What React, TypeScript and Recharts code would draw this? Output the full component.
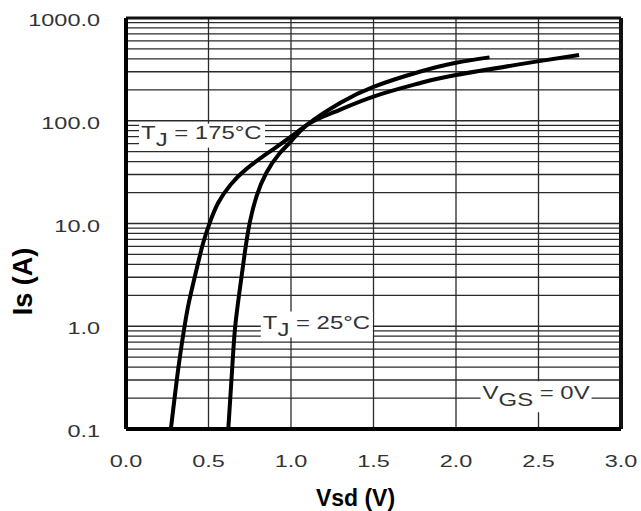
import React from "react";
import {
  LineChart,
  Line,
  XAxis,
  YAxis,
  ReferenceLine,
  ReferenceDot,
} from "recharts";

// Body diode forward characteristic
const vsd175 = [0.272, 0.318, 0.355, 0.381, 0.428, 0.468, 0.508, 0.559, 0.635, 0.73, 0.86, 1.0, 1.12, 1.265, 1.5, 1.78, 2.0, 2.485, 2.746];
const is175 = [0.1, 0.4, 1.0, 1.7, 3.6, 6.5, 10.2, 15.9, 24.0, 34, 48.6, 70, 96, 122, 172, 232, 279, 376, 437];

const vsd25 = [0.62, 0.644, 0.662, 0.69, 0.72, 0.75, 0.791, 0.85, 0.93, 1.0, 1.1, 1.3, 1.5, 1.78, 2.0, 2.203];
const is25 = [0.1, 0.4, 1.0, 2.3, 5.2, 10.2, 18.4, 31, 48, 63, 92, 150, 214, 300, 367, 414];

const xTicks = [0, 0.5, 1.0, 1.5, 2.0, 2.5, 3.0];
const yTicks = [0.1, 1, 10, 100, 1000];

// minor log grid: 1..9 per decade
const yGrid: number[] = [];
[0.1, 1, 10, 100].forEach((d) => {
  for (let k = 2; k <= 9; k++) yGrid.push(+(k * d).toPrecision(3));
});
yGrid.push(1, 10, 100);

const data175 = vsd175.map((v, i) => ({ v, is: is175[i] }));
const data25 = vsd25.map((v, i) => ({ v, is: is25[i] }));

const FONT = "'Liberation Sans', Arial, sans-serif";
const STRETCH = 1.38;
const GRID = "#2a2a2a";

function YTick({ x, y, payload }: any) {
  return (
    <text
      transform={`translate(${x}, ${y + 8}) scale(${STRETCH},1)`}
      textAnchor="end"
      fontFamily={FONT}
      fontSize={17}
      fill="#333"
    >
      {Number(payload.value).toFixed(1)}
    </text>
  );
}

function XTick({ x, y, payload }: any) {
  return (
    <text
      transform={`translate(${x}, ${y + 38}) scale(${STRETCH},1)`}
      textAnchor="middle"
      fontFamily={FONT}
      fontSize={17}
      fill="#333"
    >
      {Number(payload.value).toFixed(1)}
    </text>
  );
}

// annotation with white box behind it; box given relative to the text start
function annotation(main: string, sub: string, rest: string, box: [number, number, number, number]) {
  return ({ viewBox }: any) => {
    const { x, y } = viewBox;
    return (
      <g>
        <rect x={x + box[0]} y={y + box[1]} width={box[2]} height={box[3]} fill="#fff" />
        <text
          transform={`translate(${x}, ${y}) scale(1.33,1)`}
          fontFamily={FONT}
          fontSize={18}
          fill="#333"
        >
          {main}
          <tspan dy={7}>{sub}</tspan>
          <tspan dy={-7}>{rest}</tspan>
        </text>
      </g>
    );
  };
}

export default function App() {
  return (
    <div style={{ position: "absolute", left: 0, top: 0, background: "#fff" }}>
      <LineChart
        width={641}
        height={511}
        margin={{ top: 18, right: 20, bottom: 0, left: 0 }}
      >
        <XAxis
          type="number"
          dataKey="v"
          domain={[0, 3]}
          ticks={xTicks}
          tick={<XTick />}
          tickLine={false}
          tickSize={0}
          tickMargin={0}
          height={82}
          axisLine={{ stroke: "#000", strokeWidth: 4 }}
          allowDataOverflow
          label={{
            value: "Vsd (V)",
            position: "insideBottom",
            offset: 5,
            dx: -18,
            fill: "#000",
            fontFamily: FONT,
            fontWeight: "bold",
            fontSize: 23,
          }}
        />
        <YAxis
          type="number"
          dataKey="is"
          scale="log"
          domain={[0.1, 1000]}
          ticks={yTicks}
          tick={<YTick />}
          tickLine={false}
          tickSize={0}
          tickMargin={26}
          width={126}
          axisLine={{ stroke: "#000", strokeWidth: 4 }}
          allowDataOverflow
          label={{
            value: "Is (A)",
            angle: -90,
            position: "insideLeft",
            offset: 0,
            dx: 22,
            dy: 58,
            textAnchor: "middle",
            fill: "#000",
            fontFamily: FONT,
            fontWeight: "bold",
            fontSize: 27,
          }}
        />
        {yGrid.map((v) => (
          <ReferenceLine key={"h" + v} y={v} stroke={GRID} strokeWidth={1.3} />
        ))}
        {xTicks.slice(1, -1).map((v) => (
          <ReferenceLine key={"v" + v} x={v} stroke={GRID} strokeWidth={1.3} />
        ))}
        <ReferenceLine y={1000} stroke="#111" strokeWidth={3} />
        <ReferenceLine x={3} stroke="#111" strokeWidth={4} />
        <ReferenceDot
          x={0.091}
          y={67}
          r={0}
          fill="none"
          stroke="none"
          label={{ content: annotation("T", "J", " = 175°C", [-2, -15, 126, 24]) }}
        />
        <ReferenceDot
          x={0.829}
          y={0.95}
          r={0}
          fill="none"
          stroke="none"
          label={{ content: annotation("T", "J", " = 25°C", [-2, -17, 112, 26]) }}
        />
        <ReferenceDot
          x={2.161}
          y={0.195}
          r={0}
          fill="none"
          stroke="none"
          label={{ content: annotation("V", "GS", " = 0V", [-2, -18, 111, 31]) }}
        />
        <Line
          data={data175}
          dataKey="is"
          type="natural"
          stroke="#000"
          strokeWidth={4}
          dot={false}
          isAnimationActive={false}
        />
        <Line
          data={data25}
          dataKey="is"
          type="natural"
          stroke="#000"
          strokeWidth={4}
          dot={false}
          isAnimationActive={false}
        />
      </LineChart>
    </div>
  );
}
